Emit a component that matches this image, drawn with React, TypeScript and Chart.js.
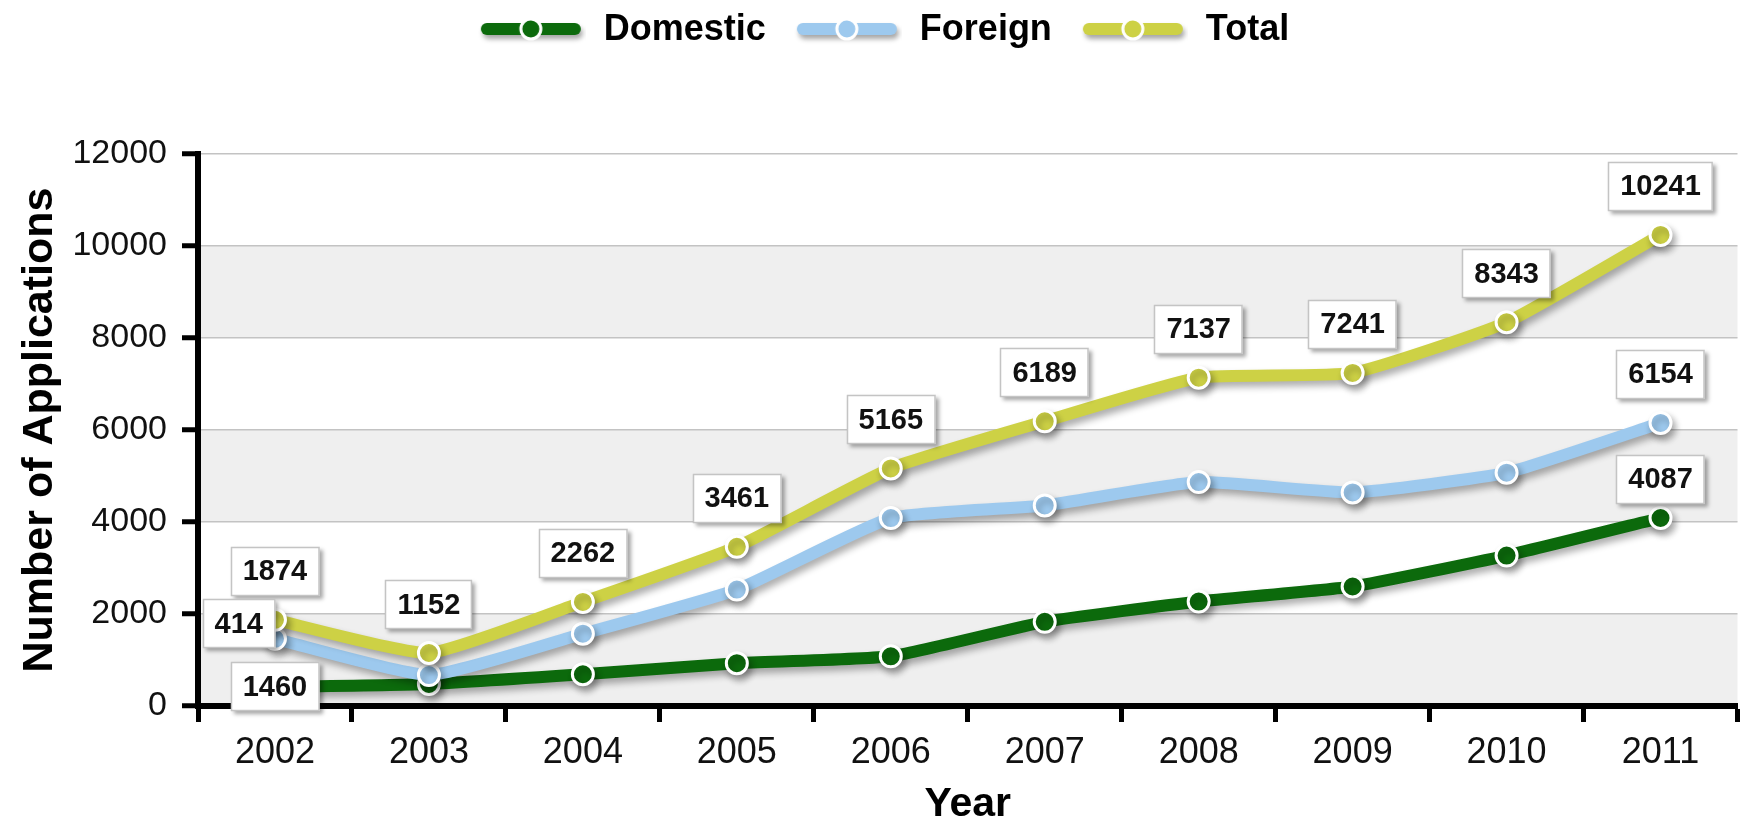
import React, { useEffect, useRef } from 'react';
import { Chart, registerables } from 'chart.js';

Chart.register(...registerables);

// ---- data ----
const years = ['2002', '2003', '2004', '2005', '2006', '2007', '2008', '2009', '2010', '2011'];
const domestic = [414, 480, 690, 930, 1080, 1830, 2270, 2598, 3270, 4087];
const foreign = [1460, 672, 1572, 2531, 4085, 4359, 4867, 4643, 5073, 6154];
const total = [1874, 1152, 2262, 3461, 5165, 6189, 7137, 7241, 8343, 10241];
const seriesNames = ['Domestic', 'Foreign', 'Total'];
const yMin = 0;
const yMax = 12000;
const yStep = 2000;

// ---- styling ----
const FONT = '"Liberation Sans", Arial, Helvetica, sans-serif';
const seriesColors = ['#0c6a0c', '#9dc9ee', '#cdd145'];
const drawOrder = [3, 2, 1];
const W = 1751;
const H = 829;

// callout boxes: value of series `s` at index `i`, placed near the point of series `at`
const callouts: { s: number; i: number; at: number; place: string }[] = [
  ...years.map((_, i) => ({ s: 2, i, at: 2, place: 'above' })),
  { s: 1, i: 9, at: 1, place: 'above' },
  { s: 0, i: 9, at: 0, place: 'aboveNear' },
  { s: 0, i: 0, at: 1, place: 'left' },
  { s: 1, i: 0, at: 0, place: 'center' },
];

function makeMarker(color: string) {
  const c = document.createElement('canvas');
  c.width = 124;
  c.height = 40;
  const g = c.getContext('2d')!;
  const x0 = 19;
  const cy = 19;
  g.save();
  g.shadowColor = 'rgba(0,0,0,0.35)';
  g.shadowBlur = 5;
  g.shadowOffsetX = 2;
  g.shadowOffsetY = 4;
  g.strokeStyle = color;
  g.lineWidth = 12;
  g.lineCap = 'round';
  g.beginPath();
  g.moveTo(x0 + 6, cy);
  g.lineTo(x0 + 94, cy);
  g.stroke();
  g.restore();
  g.beginPath();
  g.arc(x0 + 50, cy, 10, 0, Math.PI * 2);
  g.fillStyle = color;
  g.fill();
  g.lineWidth = 3;
  g.strokeStyle = '#fff';
  g.stroke();
  return c;
}

const bandsPlugin = {
  id: 'bands',
  beforeDraw(chart: any) {
    const { ctx, chartArea } = chart;
    const y = chart.scales.y;
    ctx.save();
    ctx.fillStyle = '#ffffff';
    ctx.fillRect(0, 0, chart.width, chart.height);
    const ticks = y.ticks;
    for (let k = 0; k < ticks.length - 1; k++) {
      if (k % 2 === 0) {
        const y0 = y.getPixelForValue(ticks[k].value);
        const y1 = y.getPixelForValue(ticks[k + 1].value);
        ctx.fillStyle = '#efefef';
        ctx.fillRect(chartArea.left, y1, chartArea.right - chartArea.left, y0 - y1);
      }
    }
    ctx.restore();
  },
};

const shadowPlugin = {
  id: 'lineShadow',
  beforeDatasetsDraw(chart: any) {
    const ctx = chart.ctx;
    ctx.save();
    ctx.shadowColor = 'rgba(0,0,0,0.32)';
    ctx.shadowBlur = 7;
    ctx.shadowOffsetX = 3;
    ctx.shadowOffsetY = 5;
  },
  afterDatasetsDraw(chart: any) {
    chart.ctx.restore();
  },
};

const calloutPlugin = {
  id: 'callouts',
  afterDatasetsDraw(chart: any) {
    const ctx = chart.ctx;
    ctx.save();
    ctx.font = 'bold 29px ' + FONT;
    for (const c of callouts) {
      const value = chart.data.datasets[c.s].data[c.i];
      const pt = chart.getDatasetMeta(c.at).data[c.i];
      const text = String(value);
      const w = ctx.measureText(text).width + 24;
      const h = 49;
      let cx = pt.x;
      let cy = pt.y;
      if (c.place === 'above') cy = pt.y - 24 - h / 2;
      else if (c.place === 'aboveNear') cy = pt.y - 14 - h / 2;
      else if (c.place === 'left') {
        cx = pt.x - w / 2;
        cy = pt.y - 15;
      }
      const bx = Math.round(cx - w / 2);
      const by = Math.round(cy - h / 2);
      ctx.save();
      ctx.shadowColor = 'rgba(0,0,0,0.35)';
      ctx.shadowBlur = 4;
      ctx.shadowOffsetX = 3;
      ctx.shadowOffsetY = 3;
      ctx.fillStyle = '#ffffff';
      ctx.fillRect(bx, by, w, h);
      ctx.restore();
      ctx.strokeStyle = '#c4c4c4';
      ctx.lineWidth = 1.5;
      ctx.strokeRect(bx + 0.5, by + 0.5, w - 1, h - 1);
      ctx.fillStyle = '#111';
      ctx.textAlign = 'center';
      ctx.textBaseline = 'middle';
      ctx.fillText(text, cx, cy + 1);
    }
    ctx.restore();
  },
};

const legendSpacePlugin = {
  id: 'legendSpace',
  beforeLayout(chart: any) {
    const lg = chart.legend;
    if (lg && !lg.__patched) {
      const orig = lg.fit.bind(lg);
      lg.fit = function () {
        orig();
        this.height = 154;
      };
      lg.__patched = true;
    }
  },
};

export default function App() {
  const ref = useRef<HTMLCanvasElement>(null);

  useEffect(() => {
    const markers = seriesColors.map(makeMarker);
    const values = [domestic, foreign, total];
    const chart = new Chart(ref.current!, {
      type: 'line',
      data: {
        labels: years,
        datasets: seriesNames.map((name, k) => ({
          label: name,
          data: values[k],
          order: drawOrder[k],
          borderColor: seriesColors[k],
          backgroundColor: seriesColors[k],
          borderWidth: 12,
          pointRadius: 10.5,
          pointHoverRadius: 10.5,
          pointBorderWidth: 3,
          pointBorderColor: '#ffffff',
          pointBackgroundColor: seriesColors[k],
          tension: 0.15,
          fill: false,
          clip: false as any,
        })),
      },
      options: {
        responsive: false,
        animation: false,
        devicePixelRatio: 1,
        layout: { padding: { top: 0, left: 0, right: 0, bottom: 0 } },
        plugins: {
          tooltip: { enabled: false },
          legend: {
            display: true,
            position: 'top',
            labels: {
              usePointStyle: true,
              pointStyleWidth: 124,
              padding: 12,
              color: '#000',
              font: { family: FONT, size: 36, weight: 'bold' },
              generateLabels: (ch: any) => {
                const items = (Chart.defaults.plugins.legend.labels as any).generateLabels(ch);
                items.sort((a: any, b: any) => a.datasetIndex - b.datasetIndex);
                items.forEach((it: any) => {
                  it.pointStyle = markers[it.datasetIndex];
                  it.fontColor = '#000';
                });
                return items;
              },
            },
          },
        },
        scales: {
          x: {
            type: 'category',
            offset: true,
            afterFit: (s: any) => {
              s.height = 123;
            },
            grid: {
              offset: true,
              drawOnChartArea: false,
              drawTicks: true,
              tickLength: 16,
              tickWidth: 5,
              tickColor: '#000',
            },
            border: { display: true, color: '#000', width: 6 },
            ticks: {
              color: '#111',
              padding: 9,
              font: { family: FONT, size: 36 },
              maxRotation: 0,
            },
            title: {
              display: true,
              text: 'Year',
              color: '#000',
              font: { family: FONT, size: 41, weight: 'bold' },
              padding: { top: 0, bottom: 0 },
            },
          },
          y: {
            min: yMin,
            max: yMax,
            afterFit: (s: any) => {
              s.width = 198;
            },
            grid: {
              color: '#c3c3c3',
              lineWidth: 1.5,
              drawTicks: true,
              tickLength: 16,
              tickWidth: 5,
              tickColor: '#000',
            },
            border: { display: true, color: '#000', width: 6 },
            ticks: {
              stepSize: yStep,
              color: '#111',
              padding: 15,
              font: { family: FONT, size: 34 },
              callback: (v: any) => String(v),
            },
            title: {
              display: true,
              text: 'Number of Applications',
              color: '#000',
              font: { family: FONT, size: 43, weight: 'bold' },
              padding: { top: 14, bottom: 0 },
            },
          },
        },
      },
      plugins: [legendSpacePlugin, bandsPlugin, shadowPlugin, calloutPlugin],
    } as any);
    return () => chart.destroy();
  }, []);

  return (
    <div style={{ position: 'fixed', left: 0, top: 0, width: W, height: H, background: '#fff' }}>
      <canvas ref={ref} width={W} height={H} style={{ display: 'block' }} />
    </div>
  );
}
